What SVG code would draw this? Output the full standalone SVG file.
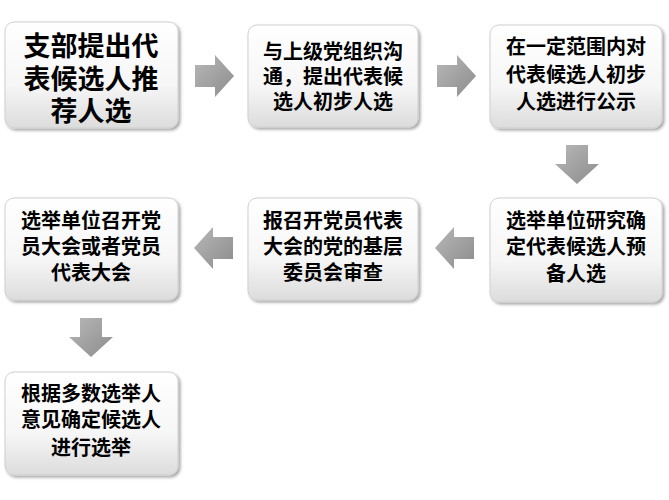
<svg xmlns="http://www.w3.org/2000/svg" width="669" height="500" viewBox="0 0 669 500">
<defs>
<linearGradient id="bg" x1="0" y1="0" x2="0" y2="1"><stop offset="0" stop-color="#ffffff"/><stop offset="0.6" stop-color="#f6f6f6"/><stop offset="1" stop-color="#dcdcdc"/></linearGradient>
<linearGradient id="ag" x1="0" y1="0" x2="1" y2="1"><stop offset="0" stop-color="#b8b8b8"/><stop offset="1" stop-color="#8c8c8c"/></linearGradient>
<filter id="sh" x="-10%" y="-10%" width="130%" height="130%"><feDropShadow dx="2" dy="2" stdDeviation="1.5" flood-color="#000" flood-opacity="0.35"/></filter>
</defs>
<style>
.b{fill:url(#bg);stroke:#cfcfcf;stroke-width:1;filter:url(#sh)}
text{font-family:"Liberation Sans","Noto Sans CJK SC",sans-serif;font-weight:bold;fill:#000;text-anchor:middle;dominant-baseline:central;font-size:20px}
.big{font-size:27px}
.a{fill:url(#ag)}
</style>
<rect width="669" height="500" fill="#fff"/>
<g id="n1"><rect class="b" x="5" y="22" width="173" height="106" rx="9"/><text class="big" x="91" y="47">支部提出代</text><text class="big" x="91" y="80">表候选人推</text><text class="big" x="91" y="112">荐人选</text></g>
<g id="n2"><rect class="b" x="248" y="25" width="170" height="102" rx="9"/><text x="333" y="52">与上级党组织沟</text><text x="333" y="77">通，提出代表候</text><text x="333" y="102">选人初步人选</text></g>
<g id="n3"><rect class="b" x="490" y="25" width="172" height="103" rx="9"/><text x="576" y="47">在一定范围内对</text><text x="576" y="75">代表候选人初步</text><text x="576" y="102">人选进行公示</text></g>
<g id="n4"><rect class="b" x="490" y="198" width="172" height="104" rx="9"/><text x="576" y="221">选举单位研究确</text><text x="576" y="247">定代表候选人预</text><text x="576" y="274">备人选</text></g>
<g id="n5"><rect class="b" x="248" y="198" width="170" height="102" rx="9"/><text x="333" y="221">报召开党员代表</text><text x="333" y="247">大会的党的基层</text><text x="333" y="273">委员会审查</text></g>
<g id="n6"><rect class="b" x="5" y="198" width="173" height="102" rx="9"/><text x="91" y="221">选举单位召开党</text><text x="91" y="247">员大会或者党员</text><text x="91" y="273">代表大会</text></g>
<g id="n7"><rect class="b" x="5" y="372" width="173" height="103" rx="9"/><text x="91" y="394">根据多数选举人</text><text x="91" y="420">意见确定候选人</text><text x="91" y="448">进行选举</text></g>
<g id="connectors">
<polygon class="a" points="195,65 215,65 215,55 234,76 215,97 215,87 195,87"/>
<polygon class="a" points="437,65 457,65 457,55 476,76 457,97 457,87 437,87"/>
<polygon class="a" points="566,145 588,145 588,164 599,164 577,184 555,164 566,164"/>
<polygon class="a" points="474,237 454,237 454,227 435,248 454,269 454,259 474,259"/>
<polygon class="a" points="233,237 213,237 213,227 194,248 213,269 213,259 233,259"/>
<polygon class="a" points="80,318 102,318 102,337 113,337 91,357 69,337 80,337"/>
</g>
</svg>
